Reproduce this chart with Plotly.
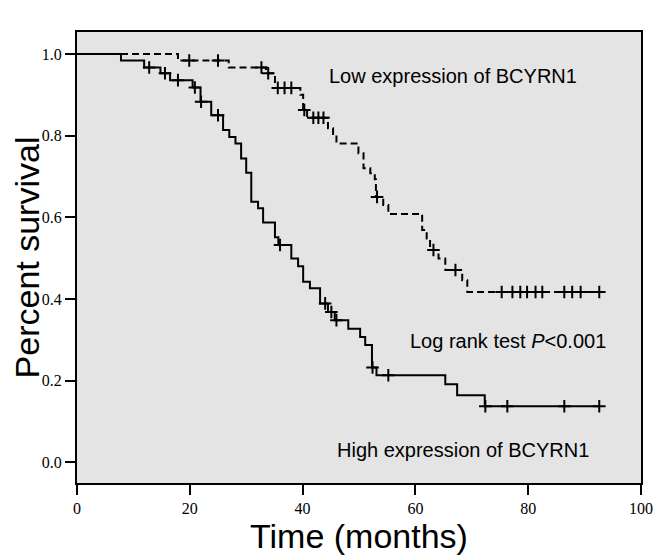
import numpy as np
import plotly.graph_objects as go

# ---- data ----
# High expression of BCYRN1 (solid): event times (months) and survival after each event
high_times = [7.8, 11.9, 14.8, 16.5, 20.5, 21.9, 23.8, 25.9, 27.0, 28.1, 29.1, 30.0, 30.9,
              32.1, 33.0, 35.1, 35.7, 38.0, 39.2, 40.1, 41.3, 43.1, 44.5, 45.7, 48.1, 50.2,
              51.1, 52.3, 53.1, 65.3, 67.4, 72.3]
high_surv = [0.984, 0.967, 0.953, 0.936, 0.918, 0.883, 0.850, 0.814, 0.797, 0.781, 0.744,
             0.709, 0.638, 0.622, 0.587, 0.551, 0.532, 0.499, 0.480, 0.442, 0.426, 0.389,
             0.368, 0.348, 0.327, 0.307, 0.287, 0.232, 0.213, 0.191, 0.164, 0.137]
high_censor = [12.8, 15.6, 17.9, 20.9, 22.0, 25.0, 36.0, 44.0, 45.1, 46.0, 52.4, 55.2,
               72.4, 76.3, 86.4, 92.6]

# Low expression of BCYRN1 (dashed)
low_times = [17.9, 26.9, 33.5, 35.1, 39.6, 40.1, 40.8, 44.5, 45.4, 46.0, 49.9, 50.8, 52.0,
             52.8, 53.0, 54.3, 55.2, 61.2, 62.0, 62.6, 64.1, 65.3, 68.3, 69.2]
low_surv = [0.984, 0.967, 0.953, 0.917, 0.900, 0.863, 0.844, 0.818, 0.801, 0.781, 0.757,
            0.720, 0.708, 0.693, 0.650, 0.630, 0.608, 0.569, 0.548, 0.520, 0.499, 0.471,
            0.446, 0.417]
low_censor = [19.9, 25.0, 32.7, 33.9, 35.6, 36.8, 38.0, 40.3, 41.9, 42.8, 43.7, 53.2, 63.2,
              67.1, 75.3, 77.2, 78.6, 79.8, 81.3, 82.5, 86.4, 87.8, 89.3, 92.6]

end_time = 92.6
x_ticks = [0, 20, 40, 60, 80, 100]
y_ticks = [0.0, 0.2, 0.4, 0.6, 0.8, 1.0]
y_tick_labels = ["0.0", "0.2", "0.4", "0.6", "0.8", "1.0"]


def step_curve(times, surv, end):
    xs = [0.0] + list(times) + [end]
    ys = [1.0] + list(surv) + [surv[-1]]
    return xs, ys


def censor_y(times, surv, cens):
    t = np.array(times)
    s = np.array([1.0] + list(surv))
    idx = np.searchsorted(t, np.array(cens), side="right")
    return s[idx]


fig = go.Figure()

for times, surv, cens, dash in [
    (high_times, high_surv, high_censor, "solid"),
    (low_times, low_surv, low_censor, "7px,4px"),
]:
    xs, ys = step_curve(times, surv, end_time)
    fig.add_trace(go.Scatter(
        x=xs, y=ys, mode="lines", line=dict(shape="hv", color="black", width=2, dash=dash),
        showlegend=False, hoverinfo="skip"))
    fig.add_trace(go.Scatter(
        x=cens, y=censor_y(times, surv, cens), mode="markers",
        marker=dict(symbol="cross-thin", size=9, line=dict(color="black", width=2)),
        showlegend=False, hoverinfo="skip"))

ann_font = dict(family="Liberation Sans, Arial, sans-serif", size=20, color="black")
fig.add_annotation(x=44.3, y=0.946, xref="x", yref="y", text="Low expression of BCYRN1",
                   showarrow=False, xanchor="left", yanchor="middle", font=ann_font)
fig.add_annotation(x=58.7, y=0.297, xref="x", yref="y", text="Log rank test <i>P</i>&lt;0.001",
                   showarrow=False, xanchor="left", yanchor="middle", font=ann_font)
fig.add_annotation(x=45.7, y=0.031, xref="x", yref="y", text="High expression of BCYRN1",
                   showarrow=False, xanchor="left", yanchor="middle", font=ann_font)

tick_font = dict(family="Liberation Serif, Times New Roman, serif", size=16, color="black")
title_font = dict(family="Liberation Sans, Arial, sans-serif", size=34, color="black")

fig.update_xaxes(range=[0, 100], tickvals=x_ticks, ticks="outside", ticklen=10, tickwidth=2,
                 tickcolor="black", showline=True, linewidth=2, linecolor="black", mirror=True,
                 showgrid=False, zeroline=False, tickfont=tick_font, automargin=False,
                 title=dict(text="Time (months)", font=title_font, standoff=6))
fig.update_yaxes(range=[-0.051, 1.054], tickvals=y_ticks, ticktext=y_tick_labels,
                 ticks="outside", ticklen=10, tickwidth=2, tickcolor="black", showline=True,
                 linewidth=2, linecolor="black", mirror=True, showgrid=False, zeroline=False,
                 tickfont=tick_font, automargin=False,
                 title=dict(text="Percent survival", font=title_font, standoff=13))

# the page body has an 8px default margin, so the figure is 8px smaller and margins shifted
fig.update_layout(width=658, height=552, margin=dict(l=69, r=25, t=24, b=77),
                  paper_bgcolor="white", plot_bgcolor="#e4e4e4")

fig.write_html("out.html")
